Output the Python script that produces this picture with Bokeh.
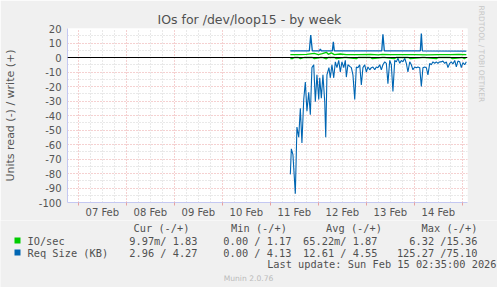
import math
from bokeh.plotting import figure
from bokeh.layouts import column, row
from bokeh.models import Range1d, FixedTicker, Span, Title
from bokeh.core.properties import value
from bokeh.embed import file_html
from bokeh.resources import INLINE

# ---- data (hours since 07 Feb 00:00) ----
day_labels = ["07 Feb", "08 Feb", "09 Feb", "10 Feb", "11 Feb", "12 Feb", "13 Feb", "14 Feb"]
day_noon_hours = [12, 36, 60, 84, 108, 132, 156, 180]
y_ticks = [20, 10, 0, -10, -20, -30, -40, -50, -60, -70, -80, -90, -100]

reqsize_read_hours = [
    106, 106.5, 107.3, 108.5, 109.3, 110.2, 111, 111.8, 112.7, 113.5, 114.3, 115.2, 116, 116.8,
    117.7, 118.5, 119.3, 120.2, 120.7, 121.5, 122.3, 123.2, 123.7, 124.3, 125.3, 126, 126.8,
    127.7, 128.5, 129.3, 130.2, 131, 131.8, 132.7, 133.5, 134, 134.8, 136,
    136.5, 137.3, 138.2, 139, 139.8, 140.7, 141.5, 142.3, 143.2, 144, 144.8, 145.7, 146.5,
    147.3, 148.2, 149, 149.8, 150.7, 151.5, 152.3, 153.2, 154, 154.8, 155.7, 156.5, 157.3,
    158.2, 159, 159.8, 160.7, 161.5, 162.3, 163.2,
    164, 164.8, 165.7, 166.5, 167.3, 168.2, 169, 169.8, 170.7, 171.5, 172.3, 173.2, 174,
    174.8, 175.7, 176.5, 177.3, 178.2, 179, 179.8, 180.7, 181.5, 182.3, 183.2, 184, 184.8,
    185.7, 186.5, 187.3, 188.2, 189, 189.8, 190.7, 191.5, 192.3, 193.2, 194]
reqsize_read = [
    -80.6, -63, -67, -94, -48, -55, -35, -59, -29, -17, -37, -24, -39.5, -7,
    -5, -30.5, -12, -29, -14, -28, -12, -30.5, -55, -12, -7, -14, -5,
    -14, -3, -7, -2, -10, -3, -7, -2, -13.5, -5, -6.5,
    -7, -12, -29, -6.5, -7, -5, -19, -7, -5, -10, -6.5, -8.5, -7,
    -6.5, -8.5, -6.5, -7, -5, -8.5, -5, -3, -4, -18, -2, -5, -23.5,
    -2, -3, -0.5, -4, -2, -3, -0.5,
    -4, -10, -3, -5, -8.5, -6.5, -7, -6.5, -7, -20, -7, -6.5, -7,
    -12, -4, -5, -3, -4, -3, -4, -3, -3, -2.5, -4, -3, -7,
    -4, -3, -4.5, -2, -6.5, -2.5, -3, -7, -3.5, -5, -3]

reqsize_write_hours = [106, 115.5, 116.2, 117, 120.5, 121, 121.5, 127, 127.5, 128,
                       151.7, 152.3, 153, 171, 171.5, 172, 194]
reqsize_write = [4.6, 4.6, 15.4, 4.6, 4.6, 5.8, 4.6, 4.6, 10.8, 4.6,
                 4.6, 16.0, 4.6, 4.6, 16.5, 4.6, 4.4]

io_write_hours = [106, 110, 114, 118, 120, 122, 124, 125, 126.5, 128, 131, 134, 140, 146,
                  150, 152, 156, 162, 168, 174, 180, 186, 190, 194]
io_write = [2.0, 2.0, 2.2, 2.8, 2.0, 2.6, 3.6, 2.2, 3.2, 2.0, 2.4, 2.0, 2.0, 2.2,
            1.8, 2.2, 2.0, 2.0, 2.0, 1.8, 2.0, 2.0, 2.2, 2.0]

io_read_hours = [106, 107, 108, 110, 111, 113, 114, 117, 118, 121, 122, 124, 125, 128,
                 129, 133, 134, 139, 140, 146, 147, 152, 153, 158, 159, 165, 166, 172,
                 173, 179, 180, 186, 187, 192, 193, 194]
io_read = [-0.8, -0.8, 0, 0, -0.8, 0, 0, 0, -0.8, 0, 0, -0.9, 0, 0,
           -0.8, 0, 0, -0.8, 0, 0, -0.8, 0, 0, -0.8, 0, 0, -0.8, 0,
           0, -0.8, 0, 0, -0.8, 0, -0.8, 0]

legend_names = ["IO/sec", "Req Size (KB)"]
legend_headers = ["Cur (-/+)", "Min (-/+)", "Avg (-/+)", "Max (-/+)"]
legend_cur = ["9.97m/ 1.83", "2.96 / 4.27"]
legend_min = ["0.00 / 1.17", "0.00 / 4.13"]
legend_avg = ["65.22m/ 1.87", "12.61 / 4.55"]
legend_max = ["6.32 /15.36", "125.27 /75.10"]
last_update = "Last update: Sun Feb 15 02:35:00 2026"

GREEN = "#00CC00"
BLUE = "#0066B3"
BG = "#F0F0F0"
X0, X1 = -5.417, 194.583

W = 497
FL, FT, FR, FB = 67, 28, 467, 203
H_MAIN = 220
H_LEG = 287 - H_MAIN

p = figure(width=W, height=H_MAIN, output_backend="svg", toolbar_location=None,
           x_range=Range1d(X0, X1), y_range=Range1d(-100, 20),
           min_border_left=FL, min_border_right=W - FR, min_border_top=FT,
           min_border_bottom=H_MAIN - FB)
p.border_fill_color = BG
p.background_fill_color = "#FFFFFF"
p.outline_line_color = None

# title
p.title.text = "IOs for /dev/loop15 - by week"
p.title.align = "left"
p.title.offset = 90
p.title.standoff = 3
p.title.text_font = "DejaVu Sans"
p.title.text_font_size = "12.5px"
p.title.text_font_style = "normal"
p.title.text_color = "#505050"

midnights = [24 * d for d in range(0, 9)]
six_h = [h for h in range(-6, 198, 6) if h % 24 != 0]

# x axis
p.xaxis.ticker = FixedTicker(ticks=day_noon_hours, minor_ticks=midnights)
p.xaxis.major_label_overrides = {h: l for h, l in zip(day_noon_hours, day_labels)}
p.xaxis.major_tick_out = 0
p.xaxis.major_tick_in = 0
p.xaxis.minor_tick_out = 3
p.xaxis.minor_tick_in = 0
p.xaxis.minor_tick_line_color = "#E8A0A0"
p.xaxis.major_label_standoff = 1
p.xaxis.axis_line_color = "#C4C8F2"

# y axis
p.yaxis.ticker = FixedTicker(ticks=y_ticks)
p.yaxis.major_label_overrides = {t: str(t) for t in y_ticks}
p.yaxis.major_tick_out = 0
p.yaxis.major_tick_in = 0
p.yaxis.minor_tick_out = 0
p.yaxis.minor_tick_in = 0
p.yaxis.major_label_standoff = 6
p.yaxis.axis_line_color = "#C4C8F2"
p.yaxis.axis_label = "Units read (-) / write (+)"
p.yaxis.axis_label_text_font = "DejaVu Sans"
p.yaxis.axis_label_text_font_size = "11px"
p.yaxis.axis_label_text_font_style = "normal"
p.yaxis.axis_label_text_color = "#555555"
p.yaxis.axis_label_standoff = 19

for ax in (p.xaxis, p.yaxis):
    ax.major_label_text_font = "DejaVu Sans"
    ax.major_label_text_font_size = "10px"
    ax.major_label_text_color = "#555555"

# grids
p.xgrid.ticker = FixedTicker(ticks=midnights, minor_ticks=six_h)
p.ygrid.ticker = FixedTicker(ticks=y_ticks, minor_ticks=[t + 5 for t in y_ticks[1:]])
for g in (p.xgrid, p.ygrid):
    g.grid_line_color = "#EBA3A3"
    g.grid_line_dash = "1 2"
    g.grid_line_width = 1
    g.minor_grid_line_color = "#D2D2D2"
    g.minor_grid_line_dash = "1 2"

# series
p.line(reqsize_read_hours, reqsize_read, line_color=BLUE, line_width=1.1)
p.line(reqsize_write_hours, reqsize_write, line_color=BLUE, line_width=1.3)
p.line(io_write_hours, io_write, line_color=GREEN, line_width=1.3)
p.line(io_read_hours, io_read, line_color=GREEN, line_width=1.3)
p.add_layout(Span(location=0, dimension="width", line_color="#000000", line_width=1.2))

# watermark on the right
wm = Title(text="RRDTOOL / TOBI OETIKER", align="left", offset=-23, standoff=19,
           text_font="DejaVu Sans", text_font_size="7.5px", text_font_style="normal",
           text_color="#C6C6C6")
p.add_layout(wm, "right")

# ---- legend strip (pixel coordinates, y downward) ----
q = figure(width=W, height=H_LEG, output_backend="svg", toolbar_location=None,
           x_range=Range1d(0, W), y_range=Range1d(H_LEG, 0),
           min_border=0, min_border_left=0, min_border_right=0,
           x_axis_location=None, y_axis_location=None)
q.border_fill_color = BG
q.background_fill_color = BG
q.outline_line_color = None
q.xgrid.visible = False
q.ygrid.visible = False

MONO = value("DejaVu Sans Mono")
MS = value("10.3px")
TC = "#505050"
y_head, y_rows, y_last, y_munin = 7.5, [20, 32], 43.5, 57.5

q.text(x=[161, 258.5, 353.5, 449], y=[y_head] * 4, text=legend_headers, text_font=MONO,
       text_font_size=MS, text_color=TC, text_align="center", text_baseline="middle")
q.text(x=[27, 27], y=y_rows, text=legend_names, text_font=MONO, text_font_size=MS,
       text_color=TC, text_align="left", text_baseline="middle")
for col_x, vals in zip([197, 291, 377, 477], [legend_cur, legend_min, legend_avg, legend_max]):
    q.text(x=[col_x, col_x], y=y_rows, text=vals, text_font=MONO, text_font_size=MS,
           text_color=TC, text_align="right", text_baseline="middle")
q.text(x=[496], y=[y_last], text=[last_update], text_font=MONO, text_font_size=MS,
       text_color=TC, text_align="right", text_baseline="middle")
q.text(x=[248], y=[y_munin], text=["Munin 2.0.76"], text_font=value("DejaVu Sans"),
       text_font_size=value("7.6px"), text_color="#BBBBBB", text_align="center",
       text_baseline="middle")
q.quad(left=[14, 14], right=[20, 20], top=[y_rows[0] - 3, y_rows[1] - 3],
       bottom=[y_rows[0] + 3, y_rows[1] + 3], fill_color=[GREEN, BLUE], line_color=None)

layout = column(p, row(q, spacing=0), spacing=0)
open("out.html", "w").write(file_html(layout, INLINE))
